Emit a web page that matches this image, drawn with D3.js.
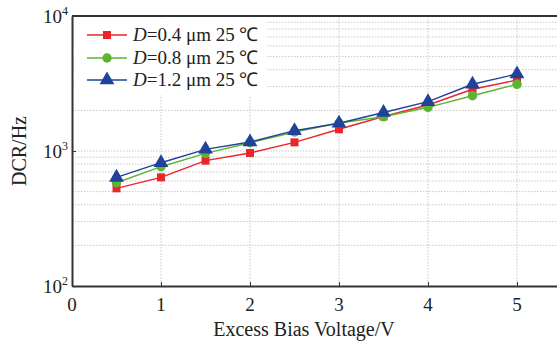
<!DOCTYPE html>
<html>
<head>
<meta charset="utf-8">
<script src="https://cdn.jsdelivr.net/npm/d3@7"></script>
<style>
  body { margin: 0; background: #fff; }
  svg { display: block; font-family: "Liberation Serif", "Times New Roman", serif; }
</style>
</head>
<body>
<svg></svg>
<script>
const width = 557, height = 342;

// data
const voltages = [0.5, 1, 1.5, 2, 2.5, 3, 3.5, 4, 4.5, 5];
const dcr04 = [529, 638, 848, 967, 1159, 1448, 1801, 2191, 2865, 3357];
const dcr08 = [582, 765, 961, 1152, 1383, 1612, 1795, 2107, 2568, 3120];
const dcr12 = [638, 819, 1029, 1166, 1414, 1604, 1928, 2319, 3120, 3718];
const seriesNames = ["0.4", "0.8", "1.2"];
const xTicks = [0, 1, 2, 3, 4, 5];
const yTicks = [100, 1000, 10000];

const colors = ["#e8262b", "#5cb531", "#1f4399"];
const shapes = [d3.symbolSquare, d3.symbolCircle, d3.symbolTriangle];
const symSize = [64, 70, 95];

const svg = d3.select("svg").attr("width", width).attr("height", height);

const margin = {left: 72, top: 16, bottom: 286};
const x = d3.scaleLinear().domain([0, 6]).range([margin.left, 606]);
const y = d3.scaleLog().domain([100, 10000]).range([margin.bottom, margin.top]);

// grid
const grid = svg.append("g").attr("stroke", "#c8c8c8").attr("stroke-dasharray", "1.5,1.5").attr("stroke-width", 1);
grid.selectAll("line.h")
    .data(y.ticks().filter(v => v > 100 && v < 10000))
    .enter().append("line")
    .attr("x1", x(0)).attr("x2", x(6))
    .attr("y1", d => y(d)).attr("y2", d => y(d));
grid.selectAll("line.v")
    .data(xTicks.slice(1))
    .enter().append("line")
    .attr("x1", d => x(d)).attr("x2", d => x(d))
    .attr("y1", y(10000)).attr("y2", y(100));

// legend background hides the grid
svg.append("rect").attr("x", 74).attr("y", 18).attr("width", 193).attr("height", 77).attr("fill", "#fff");

// series
const line = d3.line().x((d, i) => x(voltages[i])).y(d => y(d));
[dcr04, dcr08, dcr12].forEach((vals, k) => {
    svg.append("path")
        .datum(vals)
        .attr("d", line)
        .attr("fill", "none")
        .attr("stroke", colors[k])
        .attr("stroke-width", 1.4);
});
[dcr04, dcr08, dcr12].forEach((vals, k) => {
    svg.append("g").selectAll("path")
        .data(vals)
        .enter().append("path")
        .attr("d", d3.symbol().type(shapes[k]).size(symSize[k]))
        .attr("transform", (d, i) => `translate(${x(voltages[i])},${y(d)})`)
        .attr("fill", colors[k]);
});

// axes
const xAxis = d3.axisBottom(x).tickValues(xTicks).tickSizeInner(-4).tickSizeOuter(0).tickFormat("");
svg.append("g").attr("transform", `translate(0,${margin.bottom})`).call(xAxis)
    .call(g => g.selectAll("line").attr("stroke", "#333"))
    .call(g => g.select("path.domain").attr("stroke", "#333").attr("stroke-width", 2));

const yAxis = d3.axisLeft(y).tickValues(yTicks).tickSizeInner(-4).tickSizeOuter(0).tickFormat("");
svg.append("g").attr("transform", `translate(${margin.left},0)`).call(yAxis)
    .call(g => g.selectAll("line").attr("stroke", "#333"))
    .call(g => g.select("path.domain").attr("stroke", "#333").attr("stroke-width", 2));

// top frame
svg.append("line").attr("x1", x(0)).attr("x2", x(6)).attr("y1", y(10000)).attr("y2", y(10000))
    .attr("stroke", "#333").attr("stroke-width", 2);

// tick labels
svg.append("g").selectAll("text")
    .data(xTicks)
    .enter().append("text")
    .attr("x", d => x(d)).attr("y", 311)
    .attr("text-anchor", "middle")
    .attr("font-size", 19)
    .attr("fill", "#222")
    .text(d => d);

const yl = svg.append("g").selectAll("text")
    .data(yTicks)
    .enter().append("text")
    .attr("x", 68).attr("y", d => y(d) + 7)
    .attr("text-anchor", "end")
    .attr("font-size", 19)
    .attr("fill", "#222");
yl.append("tspan").text("10");
yl.append("tspan").attr("font-size", 12).attr("dy", -8).text(d => Math.round(Math.log10(d)));

// axis titles
svg.append("text")
    .attr("x", 304).attr("y", 336)
    .attr("text-anchor", "middle")
    .attr("font-size", 20)
    .attr("fill", "#222")
    .text("Excess Bias Voltage/V");
svg.append("text")
    .attr("transform", "translate(26,151) rotate(-90)")
    .attr("text-anchor", "middle")
    .attr("font-size", 20)
    .attr("fill", "#222")
    .text("DCR/Hz");

// legend
const legRows = [35, 58, 80];
seriesNames.forEach((name, k) => {
    const g = svg.append("g").attr("transform", `translate(0,${legRows[k]})`);
    g.append("line").attr("x1", 87).attr("x2", 127).attr("stroke", colors[k]).attr("stroke-width", 1.4);
    g.append("path").attr("d", d3.symbol().type(shapes[k]).size(symSize[k]))
        .attr("transform", "translate(107,0)").attr("fill", colors[k]);
    const t = g.append("text").attr("x", 133).attr("y", 6).attr("font-size", 19).attr("fill", "#222");
    t.append("tspan").attr("font-style", "italic").text("D");
    t.append("tspan").text("=" + name + " μm 25 ℃");
});
</script>
</body>
</html>
